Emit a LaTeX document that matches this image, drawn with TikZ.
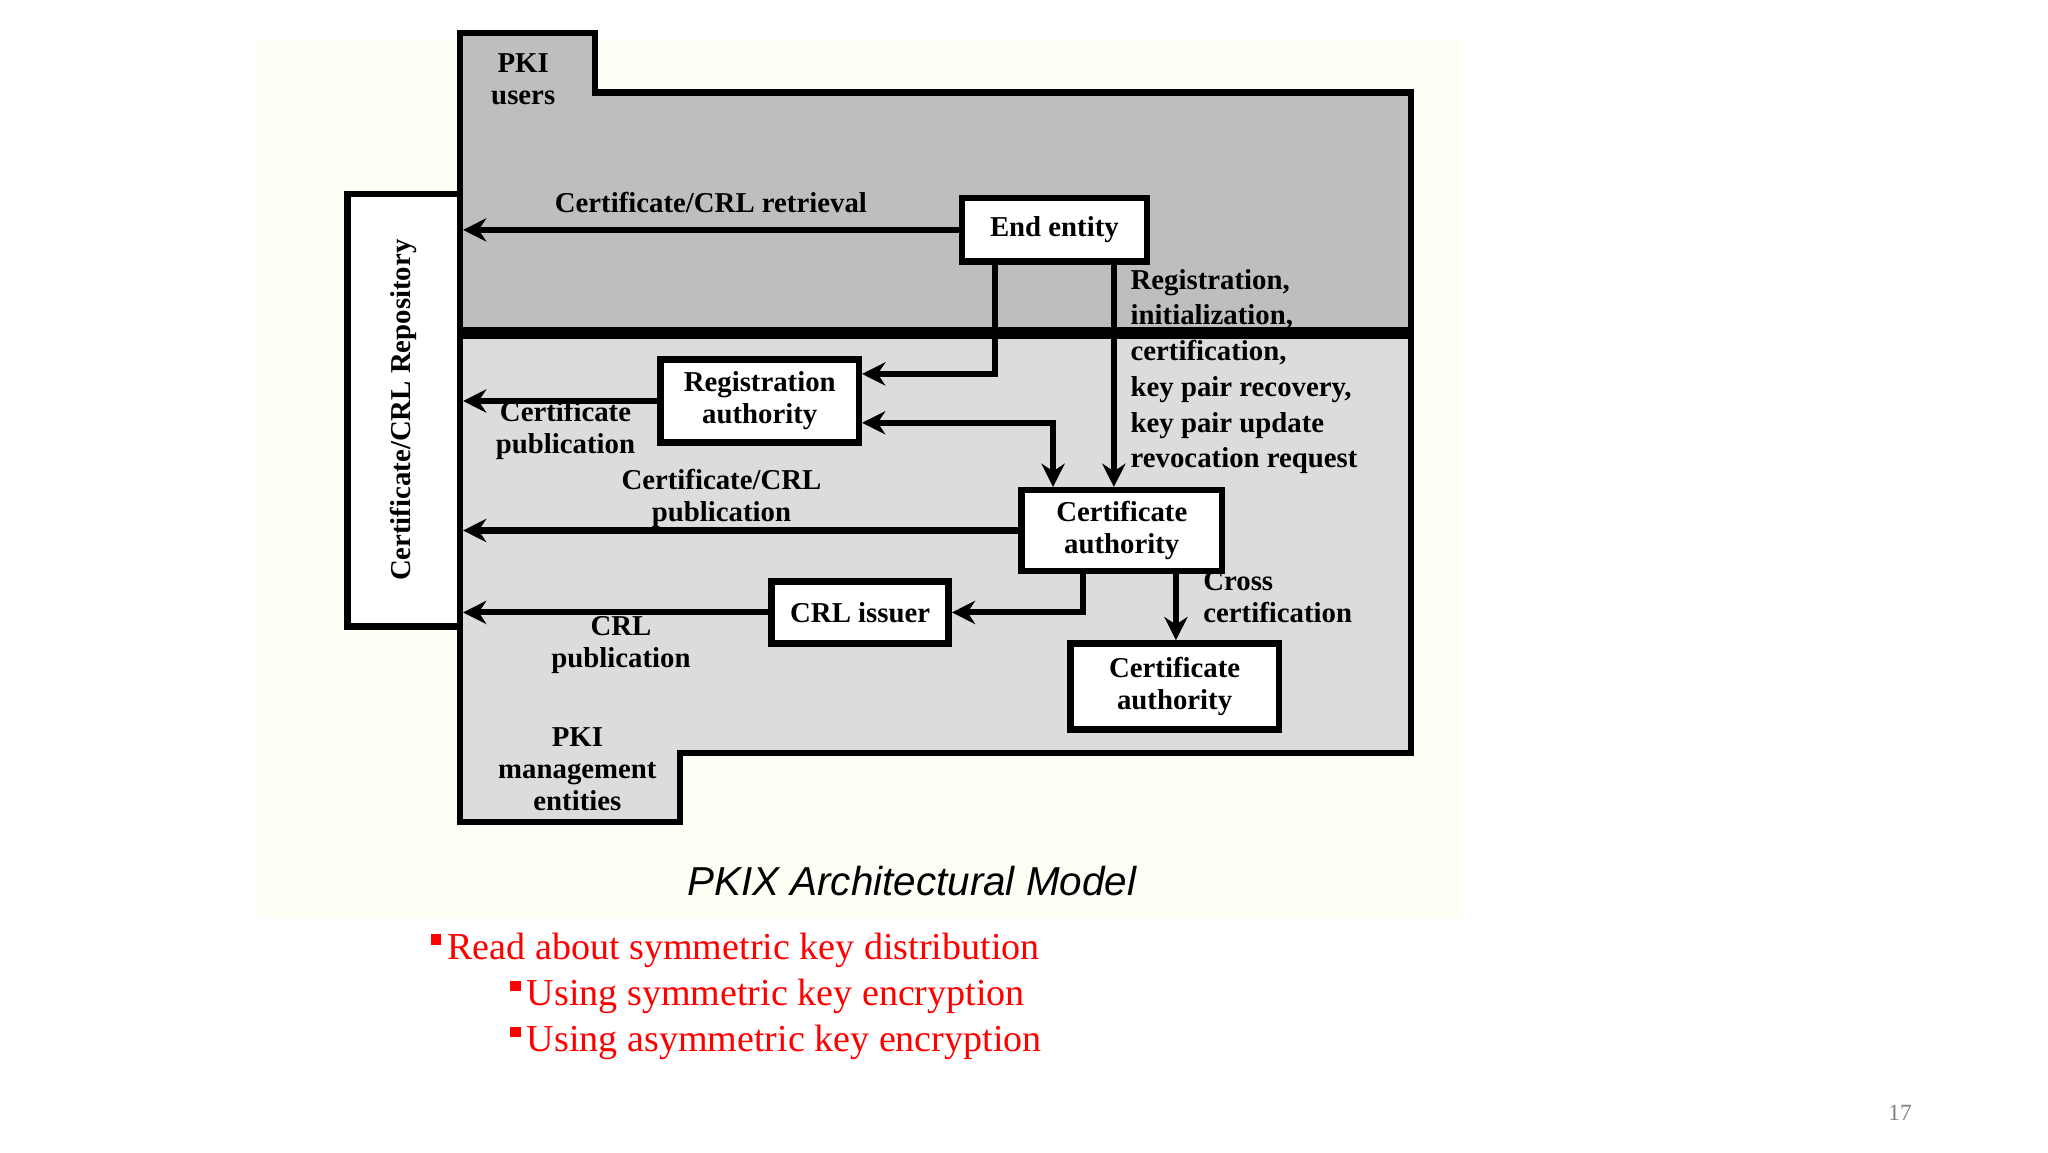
\documentclass[tikz,border=0pt]{standalone}
\usepackage{fontspec}
\setmainfont{Liberation Serif}
\newfontfamily\titlefont{Liberation Sans}
\usetikzlibrary{positioning,arrows.meta}
\definecolor{paper}{HTML}{FEFEF4}
\definecolor{usersgray}{HTML}{BEBEBE}
\definecolor{mgmtgray}{HTML}{DCDCDC}
\tikzset{
  lbl/.style={font=\fontsize{6.2}{6.9}\selectfont\bfseries, align=center, inner sep=0pt},
  box/.style={draw, line width=1.4pt, fill=white, font=\fontsize{6.2}{6.9}\selectfont\bfseries, align=center, inner sep=0pt},
  flow/.style={line width=1.3pt, -{Stealth[length=5pt,width=5pt]}},
  note/.style={font=\fontsize{8.2}{9}\selectfont, text=red, anchor=west, inner sep=0pt}
}
\begin{document}
\begin{tikzpicture}[x=1cm, y=-1cm]
    \useasboundingbox (0,0) rectangle (15.5,8.72);
    % backdrop
    \fill[paper] (1.95,0.30) rectangle (11.05,6.95);
    % regions
    \filldraw[fill=usersgray, line width=1.3pt] (3.48,0.25) -- (4.50,0.25) -- (4.50,0.70) -- (10.68,0.70) -- (10.68,2.52) -- (3.48,2.52) -- cycle;
    \filldraw[fill=mgmtgray, line width=1.3pt] (3.48,2.52) -- (10.68,2.52) -- (10.68,5.70) -- (5.15,5.70) -- (5.15,6.22) -- (3.48,6.22) -- cycle;
    \draw[line width=2.4pt] (3.48,2.52) -- (10.68,2.52);
    \node[lbl] (users) at (3.96,0.60) {PKI\\users};
    \node[lbl] (mgmt) at (4.37,5.82) {PKI\\management\\entities};

    % Define nodes
    \node[box, minimum width=0.85cm, minimum height=3.27cm] (repo) at (3.055,3.105) {};
    \node[lbl, rotate=90] at (repo) {Certificate/CRL Repository};
    \node[box, minimum width=1.40cm, minimum height=0.48cm] (ee) at (7.98,1.74) {End entity};
    \node[box, minimum width=1.50cm, minimum height=0.63cm] (ra) at (5.75,3.035) {Registration\\authority};
    \node[box, minimum width=1.52cm, minimum height=0.61cm] (ca) at (8.49,4.015) {Certificate\\authority};
    \node[box, minimum width=1.34cm, minimum height=0.47cm] (crl) at (6.51,4.635) {CRL issuer};
    \node[box, minimum width=1.58cm, minimum height=0.65cm] (ca2) at (8.89,5.195) {Certificate\\authority};

    % Draw connectors
    \draw[flow] (ee.west) -- (ee.west -| repo.east) node[lbl, pos=0.5, above=3pt] {Certificate/CRL retrieval};
    \draw[flow] (ee.south -| 7.53,0) |- (ra.east |- 0,2.83);
    \draw[flow] (ee.south -| 8.43,0) -- (ca.north -| 8.43,0);
    \draw[flow] (ra.west) -- (ra.west -| repo.east);
    \node[lbl] at (4.28,3.26) {Certificate\\publication};
    \draw[line width=1.3pt, {Stealth[length=5pt,width=5pt]}-{Stealth[length=5pt,width=5pt]}] (ra.east |- 0,3.20) -| (ca.north -| 7.97,0);
    \draw[flow] (ca.west) -- (ca.west -| repo.east);
    \node[lbl] at (5.46,3.77) {Certificate/CRL\\publication};
    \draw[flow] (ca.south -| 8.20,0) |- (crl.east);
    \draw[flow] (crl.west) -- (crl.west -| repo.east);
    \node[lbl] at (4.70,4.88) {CRL\\publication};
    \draw[flow] (ca.south -| 8.90,0) -- (ca2.north -| 8.90,0);
    \node[lbl, anchor=north west, align=left] at (9.10,4.32) {Cross\\certification};
    \node[lbl, anchor=north west, align=left, font=\fontsize{6.2}{7.7}\selectfont\bfseries] at (8.55,2.03)
      {Registration,\\initialization,\\certification,\\key pair recovery,\\key pair update\\revocation request};

    % caption and notes
    \node[font=\titlefont\itshape\fontsize{8.7}{10}\selectfont] (title) at (6.90,6.67) {PKIX Architectural Model};
    \node[note] (n1) at (3.38,7.19) {Read about symmetric key distribution};
    \node[note] (n2) at (3.98,7.54) {Using symmetric key encryption};
    \node[note] (n3) at (3.98,7.89) {Using asymmetric key encryption};
    \foreach \n in {n1,n2,n3}
      \fill[red] ([xshift=-0.12cm,yshift=-0.02cm]\n.north west) rectangle ++(0.08,0.08);
    \node[font=\fontsize{5}{6}\selectfont, text=gray] (page) at (14.38,8.42) {17};
\end{tikzpicture}
\end{document}
